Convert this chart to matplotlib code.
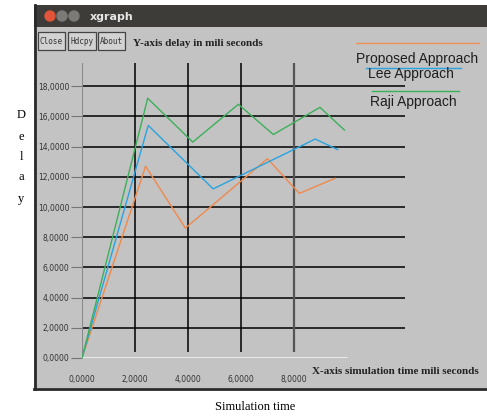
import matplotlib.pyplot as plt
from matplotlib.patches import Rectangle, Circle

# data
proposed_x = [0, 2.4, 3.9, 7.0, 8.2, 9.55]
proposed_y = [0, 12.7, 8.6, 13.2, 10.9, 11.9]
lee_x = [0, 2.5, 4.95, 8.8, 9.65]
lee_y = [0, 15.4, 11.2, 14.5, 13.8]
raji_x = [0, 2.48, 4.18, 5.9, 7.22, 8.98, 9.9]
raji_y = [0, 17.2, 14.3, 16.8, 14.8, 16.6, 15.1]

x_ticks = [0, 2, 4, 6, 8]
y_ticks = [0, 2, 4, 6, 8, 10, 12, 14, 16, 18]
x_labels = ["0,0000", "2,0000", "4,0000", "6,0000", "8,0000"]
y_labels = ["0,0000", "2,0000", "4,0000", "6,0000", "8,0000", "10,0000",
            "12,0000", "14,0000", "16,0000", "18,0000"]

W, H = 487, 418
GRAY = "#c3c3c3"

fig = plt.figure(figsize=(W / 100, H / 100), dpi=100)
fig.patch.set_facecolor("white")

# window chrome drawn in pixel coordinates
bg = fig.add_axes([0, 0, 1, 1])
bg.set_xlim(0, W)
bg.set_ylim(H, 0)
bg.axis("off")
bg.add_patch(Rectangle((34, 27), W - 34, 361, facecolor=GRAY, edgecolor="none"))
bg.add_patch(Rectangle((34, 5), W - 34, 22, facecolor="#3d3c38", edgecolor="none"))
bg.plot([35, 35], [5, 389], color="#2a2a2a", lw=2)
bg.plot([34, W], [388.5, 388.5], color="#2a2a2a", lw=2)
bg.add_patch(Circle((50, 16), 5, color="#e0553a"))
bg.add_patch(Circle((62, 16), 5, color="#7b7a76"))
bg.add_patch(Circle((74, 16), 5, color="#7b7a76"))
bg.text(90, 16.5, "xgraph", color="#e6e6e6", fontsize=8, fontweight="bold",
        va="center", ha="left")
for bx, bw, name in [(38, 27, "Close"), (68, 28, "Hdcpy"), (98, 27, "About")]:
    bg.add_patch(Rectangle((bx, 32), bw, 18, facecolor="#d2d2d2",
                           edgecolor="#444444", lw=0.9))
    bg.text(bx + bw / 2, 41.5, name, fontsize=5.5, color="#333333",
            ha="center", va="center", family="DejaVu Sans Mono")
bg.text(133, 44, "Y-axis delay in mili seconds", fontsize=8,
        fontweight="bold", family="Liberation Serif", va="center", color="#222222")
bg.text(312, 372, "X-axis simulation time mili seconds", fontsize=8,
        fontweight="bold", family="Liberation Serif", va="center", color="#222222")
bg.text(255, 407, "Simulation time", fontsize=9, family="Liberation Serif",
        ha="center", va="center")
for ch, cy in zip("Delay", [115, 137, 157, 177, 199]):
    bg.text(21, cy, ch, fontsize=9, family="Liberation Serif",
            ha="center", va="center")

# legend, xgraph style
legend_font = "Liberation Sans"
bg.plot([356, 479], [42.7, 42.7], color="#f0915a", lw=1)
bg.text(356, 59, "Proposed Approach", fontsize=10, family=legend_font,
        va="center", color="#1e1e1e")
bg.plot([366, 461], [68, 68], color="#29a3e0", lw=1)
bg.text(368, 74, "Lee Approach", fontsize=10, family=legend_font,
        va="center", color="#1e1e1e")
bg.plot([372, 459], [91, 91], color="#3cb05a", lw=1)
bg.text(370, 102, "Raji Approach", fontsize=10, family=legend_font,
        va="center", color="#1e1e1e")

# plot area
x0_px, x1_px, y0_px, y1_px = 82, 405, 358, 63
ax = fig.add_axes([x0_px / W, (H - y0_px) / H, (x1_px - x0_px) / W,
                   (y0_px - y1_px) / H])
ax.patch.set_alpha(0)
xmax = (x1_px - x0_px) / 26.5
ymax = (y0_px - y1_px) / 15.1
ax.set_xlim(0, xmax)
ax.set_ylim(0, ymax)
for s in ax.spines.values():
    s.set_visible(False)

ax.hlines(y_ticks[1:], 0, xmax, color="black", lw=1.1)
ax.vlines(x_ticks[1:4], 0.4, ymax, color="black", lw=1.1)
ax.vlines(x_ticks[4], 0.4, ymax, color="#555555", lw=1.6)
ax.vlines(0, 0, ymax, color="#8a8a8a", lw=1.5)
ax.hlines(0, 0, 10.0, color="#eeeeee", lw=2)

ax.plot(proposed_x, proposed_y, color="#f0894c", lw=1)
ax.plot(lee_x, lee_y, color="#29a3e0", lw=1)
ax.plot(raji_x, raji_y, color="#3cb05a", lw=1)

ax.set_xticks(x_ticks, x_labels)
ax.set_yticks(y_ticks, y_labels)
ax.tick_params(axis="x", length=0, pad=12, labelsize=5.5, labelcolor="#333333")
ax.tick_params(axis="y", length=8, width=0.8, color="#777777", pad=1,
               labelsize=5.5, labelcolor="#333333")

fig.savefig("out.png", dpi=100)
